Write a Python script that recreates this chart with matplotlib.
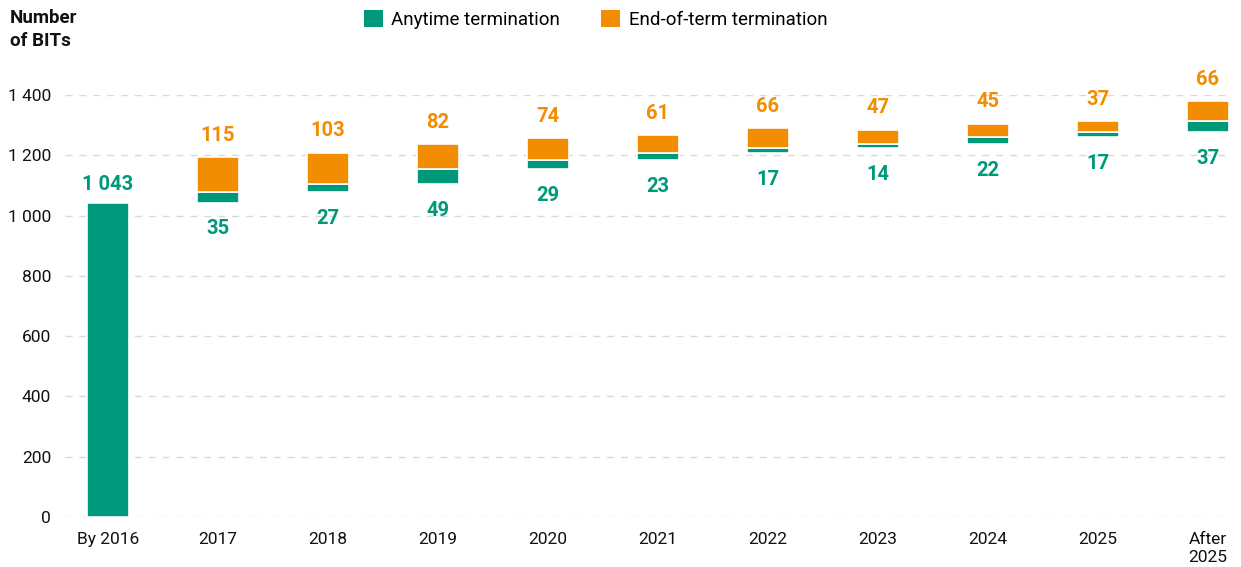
import numpy as np
import matplotlib.pyplot as plt
from matplotlib.patches import Patch
from matplotlib.ticker import FuncFormatter

plt.rcParams['font.family'] = ['Roboto', 'DejaVu Sans']

categories = ['By 2016', '2017', '2018', '2019', '2020', '2021', '2022',
              '2023', '2024', '2025', 'After\n2025']
anytime = [1043, 35, 27, 49, 29, 23, 17, 14, 22, 17, 37]
end_of_term = [0, 115, 103, 82, 74, 61, 66, 47, 45, 37, 66]

green = '#00987A'
orange = '#F28C00'

x = np.arange(len(categories))
anytime = np.array(anytime)
end_of_term = np.array(end_of_term)
green_base = np.concatenate([[0], np.cumsum(anytime)[:-1]])
orange_base = green_base + anytime

fig = plt.figure(figsize=(12.41, 5.67), dpi=100)
ax = fig.add_axes([0.0524, 0.0882, 0.9386, 0.7443])

w = 0.38
ax.bar(x, anytime, w, bottom=green_base, color=green, edgecolor='white',
       linewidth=1.2, zorder=3)
ax.bar(x[1:], end_of_term[1:], w, bottom=orange_base[1:], color=orange,
       edgecolor='white', linewidth=1.2, zorder=3)

# value labels
for i in x:
    if i == 0:
        ax.annotate(f'{anytime[i]:,}'.replace(',', ' '), (i, anytime[i]),
                    xytext=(0, 6), textcoords='offset points', ha='center',
                    va='bottom', color=green, fontsize=14.5, fontweight='bold')
        continue
    ax.annotate(str(end_of_term[i]), (i, orange_base[i] + end_of_term[i]),
                xytext=(0, 9), textcoords='offset points', ha='center',
                va='bottom', color=orange, fontsize=14.5, fontweight='bold')
    ax.annotate(str(anytime[i]), (i, green_base[i]),
                xytext=(0, -12), textcoords='offset points', ha='center',
                va='top', color=green, fontsize=14.5, fontweight='bold')

ax.set_xlim(-0.39, 10.2)
ax.set_ylim(0, 1400)
ax.set_yticks(np.arange(0, 1401, 200))
ax.yaxis.set_major_formatter(FuncFormatter(lambda v, p: f'{int(v):,}'.replace(',', ' ')))
ax.set_xticks(x)
ax.set_xticklabels(categories, linespacing=1.25)
ax.tick_params(axis='both', length=0, labelsize=12.5, colors='#111111')
ax.tick_params(axis='y', pad=10)
ax.tick_params(axis='x', pad=11)
ax.grid(axis='y', color='#d9d9d9', linestyle=(0, (5, 5)), linewidth=1, zorder=0)
for s in ax.spines.values():
    s.set_visible(False)

fig.text(0.008, 0.985, 'Number\nof BITs', ha='left', va='top', fontsize=13.5,
         fontweight='bold', color='#111111', linespacing=1.4)

handles = [Patch(facecolor=green, label='Anytime termination'),
           Patch(facecolor=orange, label='End-of-term termination')]
fig.legend(handles=handles, loc='upper center', bbox_to_anchor=(0.48, 1.012),
           ncol=2, frameon=False, fontsize=13.5, handlelength=1.0, handleheight=1.0,
           handletextpad=0.45, columnspacing=2.2)

fig.savefig('out.png', dpi=100)
